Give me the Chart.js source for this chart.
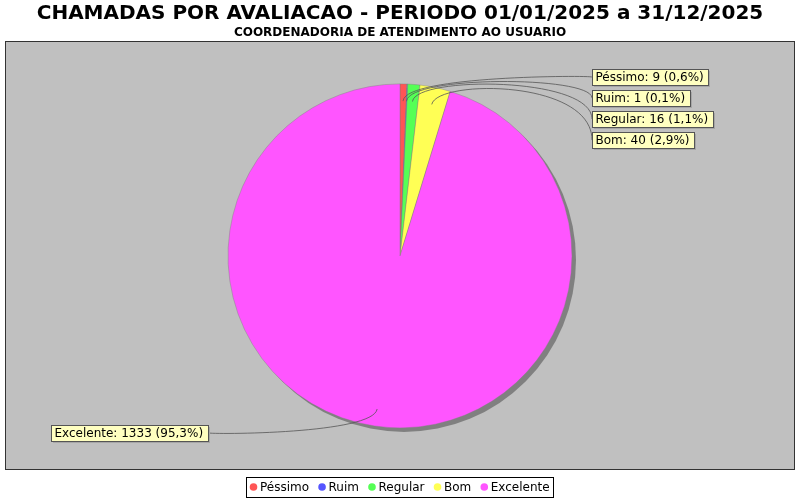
<!DOCTYPE html>
<html>
<head>
<meta charset="utf-8">
<script src="https://cdn.jsdelivr.net/npm/chart.js@4.4.1/dist/chart.umd.min.js"></script>
<style>
  body { margin:0; background:#fff; }
  #grafico { display:block; }
</style>
</head>
<body>
<canvas id="grafico" width="800" height="500"></canvas>
<script>
// dados do relatorio
const categorias = ['Péssimo', 'Ruim', 'Regular', 'Bom', 'Excelente'];
const chamadas = [9, 1, 16, 40, 1333];
const cores = ['#FF5555', '#5555FF', '#55FF55', '#FFFF55', '#FF55FF'];
const titulo = 'CHAMADAS POR AVALIACAO - PERIODO 01/01/2025 a 31/12/2025';
const subtitulo = 'COORDENADORIA DE ATENDIMENTO AO USUARIO';

const total = chamadas.reduce((a, b) => a + b, 0);
const pct = v => (v / total * 100).toFixed(1).replace('.', ',') + '%';
const FONTE = '"DejaVu Sans", sans-serif';

// fundo da area do grafico + sombra da pizza
const fundoPlugin = {
  id: 'fundo',
  beforeDraw(chart){
    const ctx = chart.ctx;
    ctx.save();
    ctx.fillStyle = '#fff';
    ctx.fillRect(0, 0, chart.width, chart.height);
    ctx.fillStyle = '#C0C0C0';
    ctx.fillRect(5, 41, 790, 429);
    ctx.strokeStyle = '#333';
    ctx.lineWidth = 1;
    ctx.strokeRect(5.5, 41.5, 789, 428);
    ctx.restore();
  },
  beforeDatasetsDraw(chart){
    const arc = chart.getDatasetMeta(0).data[0];
    if(!arc) return;
    const ctx = chart.ctx;
    ctx.save();
    ctx.fillStyle = '#808080';
    ctx.beginPath();
    ctx.arc(arc.x + 4, arc.y + 4, arc.outerRadius, 0, Math.PI * 2);
    ctx.fill();
    ctx.restore();
  }
};

// rotulos com linhas curvas (estilo jfreechart)
const rotulosPlugin = {
  id: 'rotulos',
  afterDatasetsDraw(chart){
    const ctx = chart.ctx;
    const arcs = chart.getDatasetMeta(0).data;
    const cx = arcs[0].x, cy = arcs[0].y, r = arcs[0].outerRadius;
    ctx.save();
    ctx.font = '12px ' + FONTE;
    const itens = arcs.map((arc, i) => {
      const meio = (arc.startAngle + arc.endAngle) / 2;
      const dx = Math.cos(meio), dy = Math.sin(meio);
      const texto = categorias[i] + ': ' + chamadas[i] + ' (' + pct(chamadas[i]) + ')';
      return { i, dx, dy, texto, dir: dx >= 0, y: cy + dy * r * 1.04, w: ctx.measureText(texto).width + 8 };
    });
    [true, false].forEach(lado => {
      const grupo = itens.filter(it => it.dir === lado).sort((a, b) => a.y - b.y);
      for(let k = 1; k < grupo.length; k++){
        grupo[k].y = Math.max(grupo[k].y, grupo[k-1].y + 21);
      }
    });
    const h = 16;
    itens.forEach(it => {
      it.x = it.dir ? cx + 192 : cx - 192 - it.w;
      const ax = cx + it.dx * r * 0.9, ay = cy + it.dy * r * 0.9;
      const ex = cx + it.dx * r * 1.05, ey = cy + it.dy * r * 1.05;
      const tx = it.dir ? it.x : it.x + it.w;
      ctx.strokeStyle = '#555';
      ctx.lineWidth = 0.8;
      ctx.beginPath();
      ctx.moveTo(ax, ay);
      ctx.bezierCurveTo(ex, ey, tx, ey, tx, it.y);
      ctx.stroke();
    });
    itens.forEach(it => {
      const x = Math.round(it.x) + 0.5, y = Math.round(it.y - h / 2) + 0.5, w = Math.round(it.w);
      ctx.fillStyle = '#A6A6A6';
      ctx.fillRect(x + 1.5, y + 1.5, w, h);
      ctx.fillStyle = '#FFFFC0';
      ctx.fillRect(x, y, w, h);
      ctx.strokeStyle = '#555';
      ctx.lineWidth = 1;
      ctx.strokeRect(x, y, w, h);
      ctx.fillStyle = '#000';
      ctx.textBaseline = 'middle';
      ctx.textAlign = 'left';
      ctx.fillText(it.texto, x + 3, y + h / 2 + 0.5);
    });
    ctx.restore();
  }
};

// legenda com borda, centralizada embaixo
const legendaPlugin = {
  id: 'legenda',
  afterDraw(chart){
    const ctx = chart.ctx;
    ctx.save();
    ctx.font = '12px ' + FONTE;
    const larg = categorias.map(c => ctx.measureText(c).width);
    const padE = 7, offTexto = 6.5, gap = 13, padD = 4;
    const W = padE + larg.reduce((a, b) => a + b + offTexto, 0) + gap * (categorias.length - 1) + padD;
    const x0 = Math.round(400 - W / 2) + 0.5;
    const yc = 487;
    ctx.strokeStyle = '#000';
    ctx.lineWidth = 1;
    ctx.strokeRect(x0, 477.5, Math.round(W), 20);
    let cur = x0 + padE;
    categorias.forEach((c, i) => {
      ctx.fillStyle = cores[i];
      ctx.beginPath();
      ctx.arc(cur, yc, 3.8, 0, Math.PI * 2);
      ctx.fill();
      ctx.fillStyle = '#000';
      ctx.textBaseline = 'middle';
      ctx.fillText(c, cur + offTexto, yc + 0.5);
      cur += offTexto + larg[i] + gap;
    });
    ctx.restore();
  }
};

new Chart(document.getElementById('grafico'), {
  type: 'pie',
  data: {
    labels: categorias,
    datasets: [{
      data: chamadas,
      backgroundColor: cores,
      borderColor: 'rgba(128,128,128,0.7)',
      borderWidth: 0.6
    }]
  },
  options: {
    responsive: false,
    animation: false,
    devicePixelRatio: 1,
    radius: 172,
    layout: { padding: { top: 0, bottom: 28.6, left: 0, right: 0 } },
    plugins: {
      legend: { display: false },
      tooltip: { enabled: false },
      title: {
        display: true, text: titulo, color: '#000',
        font: { family: FONTE, size: 20, weight: 'bold' },
        padding: { top: 2, bottom: 0 }
      },
      subtitle: {
        display: true, text: subtitulo, color: '#000',
        font: { family: FONTE, size: 12, weight: 'bold' },
        padding: { top: 0, bottom: 0 }
      }
    }
  },
  plugins: [fundoPlugin, rotulosPlugin, legendaPlugin]
});
</script>
</body>
</html>
